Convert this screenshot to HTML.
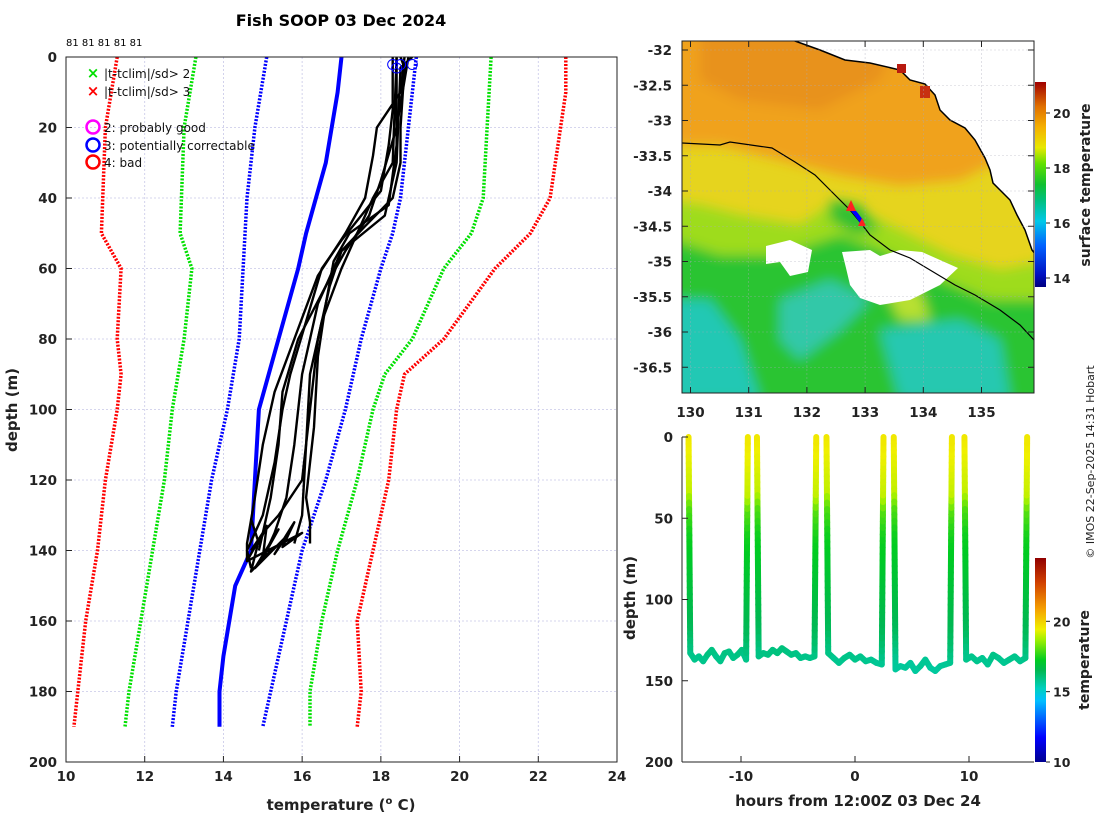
<!DOCTYPE html>
<html><head><meta charset="utf-8"><style>
body{margin:0;background:#fff;}
svg{display:block;font-family:"DejaVu Sans","Liberation Sans",sans-serif;}
</style></head><body>
<svg id="fig" width="1100" height="820" viewBox="0 0 1100 820">
<defs>
<linearGradient id="cbMap" x1="0" y1="1" x2="0" y2="0">
<stop offset="0" stop-color="#000080"/><stop offset="0.06" stop-color="#0010c0"/><stop offset="0.2" stop-color="#0060ff"/><stop offset="0.32" stop-color="#00c8e8"/><stop offset="0.42" stop-color="#00c080"/><stop offset="0.5" stop-color="#10c030"/><stop offset="0.6" stop-color="#60e000"/><stop offset="0.68" stop-color="#e8e800"/><stop offset="0.78" stop-color="#f5b000"/><stop offset="0.88" stop-color="#e07000"/><stop offset="1" stop-color="#a00000"/>
</linearGradient>
<linearGradient id="cbTemp" x1="0" y1="1" x2="0" y2="0">
<stop offset="0" stop-color="#00008f"/><stop offset="0.12" stop-color="#0000ff"/><stop offset="0.3" stop-color="#00bfff"/><stop offset="0.36" stop-color="#00d0c0"/><stop offset="0.45" stop-color="#00b850"/><stop offset="0.5" stop-color="#00cc20"/><stop offset="0.6" stop-color="#a0f000"/><stop offset="0.65" stop-color="#f0f000"/><stop offset="0.75" stop-color="#f5a000"/><stop offset="0.88" stop-color="#d04000"/><stop offset="1" stop-color="#900000"/>
</linearGradient>
<filter id="blur"><feGaussianBlur stdDeviation="6"/></filter>
<clipPath id="mapClip"><rect x="682" y="41" width="352" height="352"/></clipPath>
<clipPath id="leftClip"><rect x="66" y="57" width="551" height="705"/></clipPath>
<clipPath id="brClip"><rect x="682" y="432" width="352" height="330"/></clipPath>
</defs>

<text x="341" y="26" text-anchor="middle" font-size="16" font-weight="bold">Fish SOOP 03 Dec 2024</text>
<text x="66" y="46" font-size="10">81 81 81 81 81</text>

<g id="leftGrid"></g>
<g id="leftMarks" clip-path="url(#leftClip)"></g>
<rect x="66" y="57" width="551" height="705" fill="none" stroke="#222" stroke-width="1"/>
<g id="leftTicks"></g>
<text x="0" y="0" transform="translate(17,410) rotate(-90)" text-anchor="middle" font-size="15" font-weight="bold" fill="#222">depth (m)</text>
<text x="341" y="810" text-anchor="middle" font-size="15" font-weight="bold" fill="#222">temperature (<tspan font-size="10" dy="-6">o</tspan><tspan dy="6"> C)</tspan></text>

<g font-size="12" fill="#111">
<g><text x="93" y="78" text-anchor="middle" font-size="15" font-weight="bold" fill="#00e000">×</text><text x="104" y="78">|t-tclim|/sd&gt; 2</text></g>
<g><text x="93" y="96" text-anchor="middle" font-size="15" font-weight="bold" fill="#ff0000">×</text><text x="104" y="96">|t-tclim|/sd&gt; 3</text></g>
<g><circle cx="93" cy="127" r="6.5" fill="none" stroke="#ff00ff" stroke-width="2.5"/><text x="104" y="132">2: probably good</text></g>
<g><circle cx="93" cy="145" r="6.5" fill="none" stroke="#0000ff" stroke-width="2.5"/><text x="104" y="150">3: potentially correctable</text></g>
<g><circle cx="93" cy="162" r="6.5" fill="none" stroke="#ff0000" stroke-width="2.5"/><text x="104" y="167">4: bad</text></g>
</g>

<!-- MAP -->
<g clip-path="url(#mapClip)">
<rect x="682" y="41" width="352" height="352" fill="#e6d41e"/>
<g filter="url(#blur)">
<polygon points="660,20 1050,20 1050,160 990,165 960,180 900,185 840,175 780,160 720,145 660,145" fill="#f0a21e"/>
<polygon points="700,30 900,30 880,80 820,110 740,100 700,80" fill="#e8921c"/>
<polygon points="660,200 700,205 740,215 800,225 830,205 870,215 900,230 950,255 1000,270 1050,260 1050,420 660,420" fill="#9edc1e"/>
<polygon points="660,235 720,255 780,255 840,235 880,250 930,275 990,300 1050,300 1050,420 660,420" fill="#2cc432"/>
<polygon points="830,200 860,205 880,230 855,235 830,220" fill="#30c030"/>
<polygon points="660,300 710,300 740,340 760,400 660,400" fill="#20c8b4"/>
<polygon points="780,300 830,280 870,300 840,330 800,360 780,340" fill="#30c8a8"/>
<polygon points="880,330 960,320 1000,340 1010,400 900,400" fill="#28c8b0"/>
<polygon points="880,280 920,290 930,320 900,320" fill="#b8e030"/>
</g>
<polygon points="766,246 790,240 812,250 808,272 790,276 780,262 766,264" fill="#fff"/>
<polygon points="842,252 870,250 880,256 900,250 922,252 958,268 940,285 910,300 880,305 860,298 850,285 846,268" fill="#fff"/>
<polygon points="795,41 820,50 845,60 870,63 900,70 910,80 925,84 935,95 940,110 950,120 965,128 975,140 985,158 990,170 993,183 1000,190 1010,200 1017,215 1025,230 1032,250 1040,260 1040,30 790,30" fill="#fff" stroke="#000" stroke-width="1.5"/>
<rect x="897" y="64" width="9" height="9" fill="#b81a10"/>
<rect x="920" y="86" width="10" height="12" fill="#c83010"/>
<polyline points="682,143 720,145 730,142 772,148 795,162 815,175 830,190 850,210 860,222 870,235 890,250 910,258 930,270 955,285 975,295 1000,310 1020,325 1034,340" fill="none" stroke="#000" stroke-width="1.2"/>
<polyline points="851,208 856,214 862,222" fill="none" stroke="#0000ff" stroke-width="4"/>
<polygon points="851,200 846,211 856,211" fill="#ff2020"/>
<polygon points="862,218 858,226 866,226" fill="#ff2020"/>
</g>
<g id="mapGrid"></g>
<rect x="682" y="41" width="352" height="352" fill="none" stroke="#222"/>
<g id="mapTicks"></g>
<rect x="1035" y="82" width="11" height="205" fill="url(#cbMap)"/>
<g id="mapCbTicks"></g>
<text transform="translate(1090,185) rotate(-90)" text-anchor="middle" font-size="14" font-weight="bold" fill="#222">surface temperature</text>

<!-- bottom right -->
<g id="brMarks" clip-path="url(#brClip)"></g>
<line x1="682" y1="437" x2="682" y2="762" stroke="#222"/>
<line x1="682" y1="762" x2="1034" y2="762" stroke="#222"/>
<g id="brTicks"></g>
<text transform="translate(635,598) rotate(-90)" text-anchor="middle" font-size="15" font-weight="bold" fill="#222">depth (m)</text>
<text x="858" y="806" text-anchor="middle" font-size="15" font-weight="bold" fill="#222">hours from 12:00Z 03 Dec 24</text>
<rect x="1035" y="558" width="11" height="204" fill="url(#cbTemp)"/>
<g id="brCbTicks"></g>
<text transform="translate(1089,660) rotate(-90)" text-anchor="middle" font-size="14" font-weight="bold" fill="#222">temperature</text>
<text transform="translate(1094,462) rotate(-90)" text-anchor="middle" font-size="11" fill="#222">© IMOS 22-Sep-2025 14:31 Hobart</text>
</svg>
<script>
const NS='http://www.w3.org/2000/svg';
// ---- left profile data ([depth, temp]) ----
const redLeft=[[0,11.3],[20,11.0],[50,10.9],[60,11.4],[80,11.3],[90,11.4],[100,11.3],[120,11.0],[140,10.8],[160,10.5],[180,10.3],[190,10.2]];
const greenLeft=[[0,13.3],[20,13.0],[50,12.9],[60,13.2],[80,13.0],[100,12.7],[120,12.5],[140,12.2],[160,11.9],[180,11.6],[190,11.5]];
const blueLeft=[[0,15.1],[20,14.8],[40,14.6],[60,14.5],[80,14.4],[100,14.1],[120,13.7],[140,13.4],[160,13.1],[180,12.8],[190,12.7]];
const blueRight=[[0,18.9],[20,18.7],[40,18.5],[50,18.3],[60,18.0],[80,17.5],[100,17.1],[120,16.6],[140,16.0],[160,15.6],[180,15.2],[190,15.0]];
const greenRight=[[0,20.8],[20,20.7],[40,20.6],[50,20.3],[60,19.6],[80,18.8],[90,18.1],[100,17.8],[120,17.4],[140,16.9],[160,16.5],[180,16.2],[190,16.2]];
const redRight=[[0,22.7],[10,22.7],[40,22.3],[50,21.8],[60,20.9],[80,19.6],[90,18.6],[100,18.4],[120,18.2],[140,17.8],[160,17.4],[180,17.5],[190,17.4]];
const climMean=[[0,17.0],[10,16.9],[30,16.6],[50,16.1],[60,15.9],[80,15.4],[100,14.9],[120,14.8],[140,14.7],[150,14.3],[170,14.0],[180,13.9],[190,13.9]];
const prof1=[[0,18.5],[3,18.6],[20,18.5],[30,18.5],[40,18.3],[48,17.6],[55,17.0],[65,16.7],[80,16.4],[100,16.2],[120,16.0],[130,15.4],[135,15.0],[140,14.7]];
const prof2=[[0,18.3],[15,18.3],[25,18.2],[38,18.0],[45,17.5],[52,17.0],[60,16.5],[75,16.1],[90,15.7],[100,15.5],[115,15.3],[130,15.0],[140,14.6],[145,14.7]];
const prof3=[[0,18.6],[10,18.5],[20,17.9],[28,17.8],[40,17.6],[50,17.1],[62,16.4],[80,15.8],[95,15.3],[110,15.0],[125,14.8],[138,14.6],[143,14.6]];
const prof4=[[0,18.4],[25,18.4],[42,18.2],[50,17.2],[58,16.8],[70,16.6],[85,16.4],[105,16.3],[125,16.1],[132,16.2],[138,16.2]];
const prof5=[[0,18.8],[3,18.5],[30,18.4],[45,18.1],[55,17.0],[70,16.4],[90,16.0],[110,15.8],[125,15.6],[135,15.3],[140,15.1]];
const prof6=[[0,18.4],[30,18.3],[40,17.8],[50,17.4],[60,17.0],[75,16.5],[90,16.2],[110,16.1],[130,16.0],[138,15.8]];
const prof7=[[0,18.7],[20,18.4],[35,18.0],[45,17.7],[55,17.1],[65,16.6],[80,15.9],[95,15.5],[110,15.4],[125,15.2],[140,14.9]];
const bottomWiggle=[[131,14.7],[138,14.9],[133,15.1],[142,15.0],[134,15.4],[145,14.8],[136,15.6],[141,15.3],[132,15.8],[139,15.5],[135,16.0],[143,14.6],[137,14.9],[146,14.7],[140,15.2]];
const flagCircles=[[1,18.3],[1,18.5],[1,18.8],[2,18.4]];
const xTicks=[10,12,14,16,18,20,22,24];
const yTicks=[0,20,40,60,80,100,120,140,160,180,200];

// ---- map data ----
const lonTicks=[130,131,132,133,134,135];
const latTicks=[-32,-32.5,-33,-33.5,-34,-34.5,-35,-35.5,-36,-36.5];
const sstTicks=[14,16,18,20];

// ---- depth-time data ----
const diveStart=[-14.6,-8.6,-2.5,3.4,9.6];
const diveEnd=[-9.4,-3.4,2.5,8.5,15.1];
const diveBottom=[
 [133,137,135,138,134,131,135,138,133,132,136,134,131,137],
 [135,133,134,131,133,130,132,134,133,136,135,136,135],
 [133,136,139,136,134,137,135,138,137,139,140],
 [143,141,142,139,144,141,137,142,144,141,140,139],
 [137,135,138,136,140,134,136,139,137,135,138,136]
];
const tempDepth=[0,35,45,60,90,120,140,150];
const tempVal=[19.6,19.0,18.0,17.4,16.9,16.4,15.7,15.4];
const hTicks=[-10,0,10];
const dTicks=[0,50,100,150,200];
const tcbTicks=[10,15,20];

function el(t,a,p){const e=document.createElementNS(NS,t);for(const k in a)e.setAttribute(k,a[k]);p.appendChild(e);return e;}
const X=t=>66+(t-10)*551/14, Y=d=>57+d*705/200;
const lg=document.getElementById('leftGrid'), lm=document.getElementById('leftMarks'), lt=document.getElementById('leftTicks');
xTicks.forEach(t=>{if(t>10&&t<24){const l=el('line',{x1:X(t),x2:X(t),y1:57,y2:762,stroke:'#c8c8e8','stroke-width':0.8,'stroke-dasharray':'2,2'},lg);}
 const tk=el('line',{x1:X(t),x2:X(t),y1:762,y2:756,stroke:'#222'},lt);
 const tx=el('text',{x:X(t),y:781,'text-anchor':'middle','font-size':13.5,'font-weight':'bold',fill:'#222'},lt);tx.textContent=t;});
yTicks.forEach(d=>{if(d>0&&d<200){const l=el('line',{x1:66,x2:617,y1:Y(d),y2:Y(d),stroke:'#c8c8e8','stroke-width':0.8,'stroke-dasharray':'2,2'},lg);}
 const tk=el('line',{x1:66,x2:72,y1:Y(d),y2:Y(d),stroke:'#222'},lt);
 const tx=el('text',{x:57,y:Y(d)+5,'text-anchor':'end','font-size':13.5,'font-weight':'bold',fill:'#222'},lt);tx.textContent=d;});
function pathOf(arr){return arr.map((p,i)=>(i?'L':'M')+X(p[1]).toFixed(1)+','+Y(p[0]).toFixed(1)).join('');}
function line(arr,col,w,dash,name){const p=el('path',{d:pathOf(arr),fill:'none',stroke:col,'stroke-width':w,'stroke-linejoin':'round'},lm);if(dash)p.setAttribute('stroke-dasharray',dash);
 
 }
line(redLeft,'#ff0000',3.5,'2,1.5','clim-3sd-lower');
line(redRight,'#ff0000',3.5,'2,1.5','clim-3sd-upper');
line(greenLeft,'#00e000',3.5,'2,1.5','clim-2sd-lower');
line(greenRight,'#00e000',3.5,'2,1.5','clim-2sd-upper');
line(blueLeft,'#0000ff',3.5,'2,1.5','clim-1sd-lower');
line(blueRight,'#0000ff',3.5,'2,1.5','clim-1sd-upper');
line(climMean,'#0000ff',4,null,'clim-mean');
[prof1,prof2,prof3,prof4,prof5,prof6,prof7].forEach((p,i)=>line(p,'#000',2.4,null,'profile-'+(i+1)));
line(bottomWiggle,'#000',2.4,null,'profile-bottom-noise');
flagCircles.forEach(c=>{const e=el('circle',{cx:X(c[1]),cy:Y(c[0])+4,r:5,fill:'none',stroke:'#0000ff','stroke-width':1},lm);});

// map ticks
const LX=lon=>690.5+(lon-130)*58.2, LY=lat=>50+(-32-lat)*70.5;
const mg=document.getElementById('mapGrid'), mt=document.getElementById('mapTicks');
lonTicks.forEach(v=>{const g=el('line',{x1:LX(v),x2:LX(v),y1:41,y2:393,stroke:'#aab','stroke-width':0.6,'stroke-dasharray':'2,2','stroke-opacity':0.6},mg);
 const t=el('text',{x:LX(v),y:417,'text-anchor':'middle','font-size':13.5,'font-weight':'bold',fill:'#222'},mt);t.textContent=v;
 el('line',{x1:LX(v),x2:LX(v),y1:393,y2:387,stroke:'#222'},mt);el('line',{x1:LX(v),x2:LX(v),y1:41,y2:47,stroke:'#222'},mt);});
latTicks.forEach(v=>{const g=el('line',{x1:682,x2:1034,y1:LY(v),y2:LY(v),stroke:'#aab','stroke-width':0.6,'stroke-dasharray':'2,2','stroke-opacity':0.6},mg);
 const t=el('text',{x:672,y:LY(v)+5,'text-anchor':'end','font-size':13.5,'font-weight':'bold',fill:'#222'},mt);t.textContent=v;
 el('line',{x1:682,x2:688,y1:LY(v),y2:LY(v),stroke:'#222'},mt);el('line',{x1:1028,x2:1034,y1:LY(v),y2:LY(v),stroke:'#222'},mt);});
const mcb=document.getElementById('mapCbTicks');
sstTicks.forEach(v=>{const y=278-(v-14)*27.5;el('line',{x1:1046,x2:1050,y1:y,y2:y,stroke:'#222'},mcb);
 const t=el('text',{x:1053,y:y+5,'font-size':12.5,'font-weight':'bold',fill:'#222'},mcb);t.textContent=v;});

// bottom right
const HX=h=>855+h*11.4, DY=d=>437+d*1.625;
const stops=[[0,[0,0,143]],[0.12,[0,0,255]],[0.3,[0,191,255]],[0.36,[0,208,192]],[0.45,[0,184,80]],[0.5,[0,204,32]],[0.6,[160,240,0]],[0.65,[240,240,0]],[0.75,[245,160,0]],[0.88,[208,64,0]],[1,[144,0,0]]];
function cmap(t){let f=(t-10)/14.5;f=Math.max(0,Math.min(1,f));for(let i=1;i<stops.length;i++){if(f<=stops[i][0]){const a=stops[i-1],b=stops[i],u=(f-a[0])/(b[0]-a[0]);return 'rgb('+a[1].map((c,k)=>Math.round(c+(b[1][k]-c)*u)).join(',')+')';}}return 'rgb(144,0,0)';}
function tempAt(d){for(let i=1;i<tempDepth.length;i++){if(d<=tempDepth[i]){const u=(d-tempDepth[i-1])/(tempDepth[i]-tempDepth[i-1]);return tempVal[i-1]+u*(tempVal[i]-tempVal[i-1]);}}return tempVal[tempVal.length-1];}
const bm=document.getElementById('brMarks');
diveStart.forEach((s,i)=>{const e=diveEnd[i], b=diveBottom[i];const pts=[[s,0]];const n=b.length;
 b.forEach((d,k)=>pts.push([s+0.15+(e-s-0.3)*k/(n-1),d]));pts.push([e,0]);
 const g=el('g',{},bm);
 for(let k=0;k<pts.length-1;k++){const a=pts[k],c=pts[k+1];const segs=Math.max(1,Math.round(Math.abs(c[1]-a[1])/4));
  for(let j=0;j<segs;j++){const h1=a[0]+(c[0]-a[0])*j/segs,d1=a[1]+(c[1]-a[1])*j/segs,h2=a[0]+(c[0]-a[0])*(j+1)/segs,d2=a[1]+(c[1]-a[1])*(j+1)/segs;
   el('line',{x1:HX(h1),y1:DY(d1),x2:HX(h2),y2:DY(d2),stroke:cmap(tempAt((d1+d2)/2)),'stroke-width':6,'stroke-linecap':'round'},g);}}});
const bt=document.getElementById('brTicks');
hTicks.forEach(h=>{el('line',{x1:HX(h),x2:HX(h),y1:762,y2:756,stroke:'#222'},bt);const t=el('text',{x:HX(h),y:781,'text-anchor':'middle','font-size':13.5,'font-weight':'bold',fill:'#222'},bt);t.textContent=h;});
dTicks.forEach(d=>{el('line',{x1:682,x2:688,y1:DY(d),y2:DY(d),stroke:'#222'},bt);const t=el('text',{x:673,y:DY(d)+5,'text-anchor':'end','font-size':13.5,'font-weight':'bold',fill:'#222'},bt);t.textContent=d;});
const tcb=document.getElementById('brCbTicks');
tcbTicks.forEach(v=>{const y=762-(v-10)*204/14.5;el('line',{x1:1046,x2:1050,y1:y,y2:y,stroke:'#222'},tcb);const t=el('text',{x:1053,y:y+5,'font-size':12.5,'font-weight':'bold',fill:'#222'},tcb);t.textContent=v;});
</script>
</body></html>
